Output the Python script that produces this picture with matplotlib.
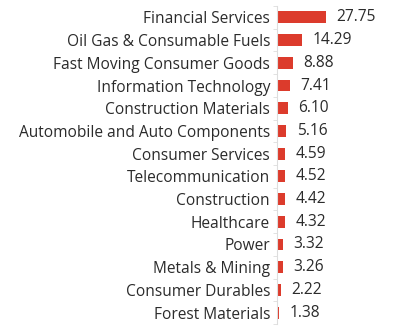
import matplotlib.pyplot as plt
import numpy as np

# sector weights (%)
sectors = ['Financial Services', 'Oil Gas & Consumable Fuels', 'Fast Moving Consumer Goods',
           'Information Technology', 'Construction Materials', 'Automobile and Auto Components',
           'Consumer Services', 'Telecommunication', 'Construction', 'Healthcare', 'Power',
           'Metals & Mining', 'Consumer Durables', 'Forest Materials']
weights = [27.75, 14.29, 8.88, 7.41, 6.10, 5.16, 4.59, 4.52, 4.42, 4.32, 3.32, 3.26, 2.22, 1.38]

plt.rcParams['font.family'] = ['Open Sans', 'DejaVu Sans']

fig = plt.figure(figsize=(3.99, 3.32), dpi=100)
ax = fig.add_axes([277 / 399, 8 / 332, 122 / 399, 318 / 332])

y = np.arange(len(sectors))
ax.barh(y, weights, height=0.52, color='#dc3b2c')

for yi, w in zip(y, weights):
    ax.text(w + 6.0, yi, f'{w:.2f}', va='center', ha='left', fontsize=11.2, color='#2b2b2b')

ax.set_yticks(y)
ax.set_yticklabels(sectors, fontsize=11.2, color='#2b2b2b')
ax.set_yticks(np.arange(-0.5, len(sectors), 1), minor=True)
ax.tick_params(axis='y', which='major', length=0, pad=5)
ax.tick_params(axis='y', which='minor', length=3, color='#dddddd')
ax.set_ylim(len(sectors) - 0.5, -0.5)
ax.set_xlim(0, 69)
ax.set_xticks([])

for s in ['top', 'right', 'bottom']:
    ax.spines[s].set_visible(False)
ax.spines['left'].set_color('#dddddd')

fig.savefig('out.png', dpi=100)
